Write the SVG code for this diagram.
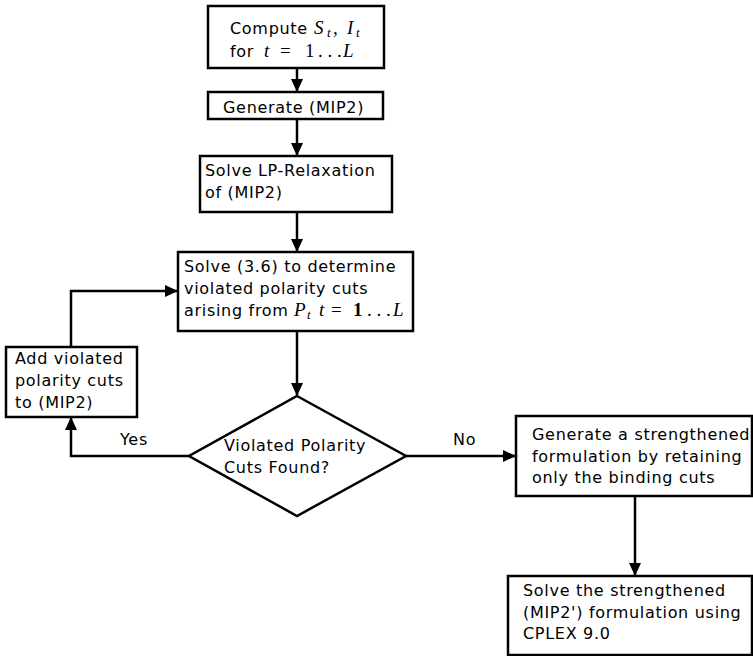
<svg xmlns="http://www.w3.org/2000/svg" width="753" height="656" viewBox="0 0 753 656">
<defs>
<marker id="ah" markerUnits="userSpaceOnUse" markerWidth="13" markerHeight="12" refX="13" refY="6" orient="auto">
<path d="M0,0 L13,6 L0,12 z" fill="#000"/>
</marker>
<style>
.box{fill:#fff;stroke:#000;stroke-width:2.5}
.t{font-family:"DejaVu Sans",sans-serif;font-size:16px;letter-spacing:0.7px;fill:#000}
.m{font-family:"Liberation Serif",serif;font-style:italic;font-size:19px;letter-spacing:0}
.mr{font-family:"Liberation Serif",serif;font-size:19px;letter-spacing:0}
.sub{font-family:"Liberation Serif",serif;font-style:italic;font-size:13px;letter-spacing:0}
.c{fill:none;stroke:#000;stroke-width:2.5;marker-end:url(#ah)}
</style>
</defs>
<rect width="753" height="656" fill="#fff"/>
<g id="connectors">
<path class="c" d="M297,68 V92"/>
<path class="c" d="M297,119 V156"/>
<path class="c" d="M297,212 V252"/>
<path class="c" d="M297,331 V396"/>
<path class="c" d="M189,456 H71 V417"/>
<path class="c" d="M71,347 V291 H178"/>
<path class="c" d="M406,456 H516"/>
<path class="c" d="M635,496 V576"/>
<text class="t" x="120" y="445">Yes</text>
<text class="t" x="453" y="445">No</text>
</g>
<g id="n1">
<rect class="box" x="208" y="6" width="176" height="62"/>
<text class="t" x="230" y="34">Compute<tspan class="m" x="314">S</tspan><tspan class="sub" x="327" dy="3">t</tspan><tspan class="mr" x="333" dy="-3">,</tspan><tspan class="m" x="347">I</tspan><tspan class="sub" x="356" dy="3">t</tspan></text>
<text class="t" x="230" y="57">for<tspan class="m" x="264">t</tspan><tspan class="mr" x="280">=</tspan><tspan class="mr" x="305">1</tspan><tspan class="mr" x="318">. . .</tspan><tspan class="m" x="343">L</tspan></text>
</g>
<g id="n2">
<rect class="box" x="208" y="92" width="175" height="27"/>
<text class="t" x="223" y="113">Generate (MIP2)</text>
</g>
<g id="n3">
<rect class="box" x="200" y="156" width="192" height="56"/>
<text class="t" x="205" y="176">Solve LP-Relaxation</text>
<text class="t" x="205" y="198">of (MIP2)</text>
</g>
<g id="n4">
<rect class="box" x="178" y="252" width="235" height="79"/>
<text class="t" x="184" y="272">Solve (3.6) to determine</text>
<text class="t" x="184" y="294">violated polarity cuts</text>
<text class="t" x="184" y="316">arising from<tspan class="m" x="294">P</tspan><tspan class="sub" x="307" dy="3">t</tspan><tspan class="m" x="319" dy="-3">t</tspan><tspan class="mr" x="331">=</tspan><tspan class="mr" x="353" font-weight="bold">1</tspan><tspan class="mr" x="367">. . .</tspan><tspan class="m" x="393">L</tspan></text>
</g>
<g id="n5">
<rect class="box" x="6" y="347" width="131" height="70"/>
<text class="t" x="15" y="364">Add violated</text>
<text class="t" x="15" y="386">polarity cuts</text>
<text class="t" x="15" y="408">to (MIP2)</text>
</g>
<g id="n6">
<path class="box" d="M297,396 L406,456 L297,516 L189,456 z"/>
<text class="t" x="224" y="451">Violated Polarity</text>
<text class="t" x="224" y="473">Cuts Found?</text>
</g>
<g id="n7">
<rect class="box" x="516" y="416" width="236" height="80"/>
<text class="t" x="532" y="440">Generate a strengthened</text>
<text class="t" x="532" y="462">formulation by retaining</text>
<text class="t" x="532" y="483">only the binding cuts</text>
</g>
<g id="n8">
<rect class="box" x="508" y="576" width="244" height="79"/>
<text class="t" x="523" y="596">Solve the strengthened</text>
<text class="t" x="523" y="618">(MIP2') formulation using</text>
<text class="t" x="523" y="639">CPLEX 9.0</text>
</g>
</svg>
